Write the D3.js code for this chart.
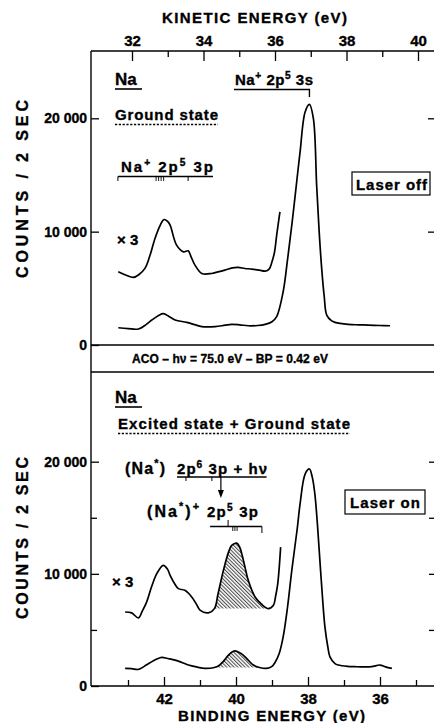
<!DOCTYPE html>
<html><head><meta charset="utf-8">
<script src="https://cdn.jsdelivr.net/npm/d3@7"></script>
<style>
body{margin:0;background:#fff;}
svg text{font-family:"Liberation Sans",Arial,Helvetica,sans-serif;font-weight:bold;fill:#000;stroke:#000;stroke-width:0.35px;}
</style></head><body><svg id="c" width="434" height="723"></svg>
<script>
// ---------------- DATA ----------------
const beMajorTicks = [42, 40, 38, 36];
const beMinorTicks = [43, 41, 39, 37, 35];
const keMajorTicks = [32, 34, 36, 38, 40];
const keMinorTicks = [33, 35, 37, 39];
const countMajorTicks = [0, 10000, 20000];
const countMinorTicks = [5000, 15000];
const countTickLabels = ["0", "10 000", "20 000"];

// Laser off (ground state) spectrum: binding energy (eV) and counts / 2 s
const offBE = [43.27,43.0,42.71,42.5,42.34,42.15,42.02,41.85,41.69,41.37,41.15,40.95,40.58,40.3,40.12,39.9,39.66,39.4,39.19,39.0,38.87,38.69,38.57,38.45,38.3,38.22,38.08,37.96,37.85,37.76,37.69,37.62,37.55,37.48,37.35,37.25,36.88,36.6,36.33,36.0,35.72];
const offCounts = [1520,1450,1410,1800,2200,2600,2760,2500,2200,2000,1800,1620,1620,1750,1820,1780,1700,1720,1820,2050,2500,4700,7500,10570,14800,17030,20560,21230,19970,14100,10000,6760,4300,2640,2150,2000,1820,1780,1760,1720,1700];
// Laser off, x3 magnified trace (plotted counts)
const offX3BE = [43.27,43.05,42.85,42.7,42.53,42.4,42.25,42.1,42.0,41.9,41.83,41.65,41.46,41.33,41.25,41.14,40.95,40.68,40.5,40.31,40.1,39.94,39.75,39.56,39.35,39.19,39.08,39.0,38.93,38.87,38.78];
const offX3Counts = [6460,6150,5960,6200,6760,7800,9400,10600,11070,10900,10570,8810,8220,8310,7800,7050,6310,6310,6450,6610,6800,6840,6750,6700,6600,6520,6700,7340,8200,9690,11740];

// Laser on (excited + ground state) spectrum
const onBE = [43.08,42.9,42.71,42.55,42.39,42.2,42.06,41.9,41.69,41.5,41.32,41.1,40.86,40.6,40.49,40.35,40.21,40.1,40.03,39.92,39.8,39.66,39.52,39.35,39.15,39.0,38.92,38.8,38.69,38.57,38.45,38.3,38.22,38.08,37.96,37.88,37.81,37.74,37.67,37.6,37.53,37.45,37.39,37.25,37.16,36.9,36.69,36.45,36.23,36.0,35.85,35.67];
const onCounts = [1570,1550,1480,1750,2070,2400,2550,2450,2310,2100,1870,1700,1570,1650,1780,2200,2760,3050,3140,3000,2760,2300,1870,1650,1570,1750,2070,2900,4380,7000,10310,14000,16240,18900,19350,18600,17130,14500,11200,8000,5270,3500,2600,2000,1870,1750,1720,1700,1720,1870,1700,1570];
// Laser on, x3 magnified trace
const onX3BE = [43.08,42.9,42.71,42.6,42.48,42.35,42.2,42.02,41.9,41.83,41.7,41.6,41.42,41.23,41.1,41.0,40.77,40.6,40.5,40.35,40.2,40.12,39.98,39.9,39.84,39.75,39.66,39.47,39.29,39.1,38.96,38.9,38.84,38.76];
const onX3Counts = [6600,6520,6070,6700,7500,8800,10020,10760,10400,9870,9100,8680,8530,7940,7300,6760,6520,6900,8200,10310,12000,12530,12740,12400,11800,10600,9420,7940,7290,6900,7200,8000,9130,12380];

// hatched (excited-state) peak ranges, binding energy eV
const hatchOnX3 = [40.6, 39.1];
const hatchOn = [40.6, 39.35];

// annotation positions in binding energy (eV)
const peak3sBE = 37.96;
const bracket3pGround = [43.28, 40.64];
const ticks3pGround = [43.28, 41.33];
const multiplet3pGround = [42.22, 42.15, 42.08, 42.01];
const bracketExc6 = [41.64, 39.15];
const ticksExc6 = [41.39, 40.67];
const arrowExcBE = 40.42;
const bracketExc5 = [40.72, 39.28];
const tickUpExc5 = 40.22;
const multipletExc5 = [40.09, 40.03, 39.97];

// ---------------- SCALES ----------------
const svg = d3.select("#c");
const L = 91, R = 436, T = 51;
const x = d3.scaleLinear().domain([42, 36]).range([164, 380]);
const xKE = d3.scaleLinear().domain([32, 40]).range([132, 418]);
const yTop = d3.scaleLinear().domain([0, 20000]).range([345, 118.3]);
const yBot = d3.scaleLinear().domain([0, 20000]).range([686, 461.7]);

const defs = svg.append("defs");
const pat = defs.append("pattern").attr("id", "hatch").attr("patternUnits", "userSpaceOnUse")
  .attr("width", 2.6).attr("height", 6).attr("patternTransform", "rotate(-45)");
pat.append("line").attr("x1", 0.6).attr("y1", 0).attr("x2", 0.6).attr("y2", 6).attr("stroke", "#000").attr("stroke-width", 0.8);

// ---------------- FRAME ----------------
const frame = svg.append("g").attr("stroke", "#000").attr("stroke-width", 1.4).attr("fill", "none");
frame.append("line").attr("x1", L).attr("x2", L).attr("y1", T).attr("y2", 686);
frame.append("line").attr("x1", R).attr("x2", R).attr("y1", T).attr("y2", 686);
frame.append("line").attr("x1", L).attr("x2", R + 2).attr("y1", T).attr("y2", T);
frame.append("line").attr("x1", L).attr("x2", R + 2).attr("y1", yTop(0)).attr("y2", yTop(0));
frame.append("line").attr("x1", L).attr("x2", R + 2).attr("y1", 372).attr("y2", 372);
frame.append("line").attr("x1", L).attr("x2", R + 2).attr("y1", yBot(0)).attr("y2", yBot(0));

function styleAxis(g, fs) {
  g.select(".domain").remove();
  g.selectAll(".tick line").attr("stroke", "#000").attr("stroke-width", 1.3);
  g.selectAll(".tick text").attr("font-size", fs).attr("fill", "#000")
    .attr("font-family", '"Liberation Sans",Arial,sans-serif').attr("font-weight", "bold");
}
const fmtCount = d => countTickLabels[countMajorTicks.indexOf(d)];

// top kinetic energy axis
svg.append("g").attr("transform", `translate(0,${T})`)
  .call(d3.axisTop(xKE).tickValues(keMajorTicks).tickSize(-10).tickPadding(5).tickFormat(d3.format("d")))
  .call(g => styleAxis(g, 15));
svg.append("g").attr("transform", `translate(0,${T})`)
  .call(d3.axisTop(xKE).tickValues(keMinorTicks).tickSize(-6).tickFormat(""))
  .call(g => styleAxis(g, 15));

// bottom binding energy axis
svg.append("g").attr("transform", `translate(0,${yBot(0)})`)
  .call(d3.axisBottom(x).tickValues(beMajorTicks).tickSize(-9).tickPadding(7).tickFormat(d3.format("d")))
  .call(g => styleAxis(g, 15));
svg.append("g").attr("transform", `translate(0,${yBot(0)})`)
  .call(d3.axisBottom(x).tickValues(beMinorTicks).tickSize(-6).tickFormat(""))
  .call(g => styleAxis(g, 15));

// left / right count axes
svg.append("g").attr("transform", `translate(${L},0)`)
  .call(d3.axisLeft(yTop).tickValues(countMajorTicks).tickSize(-8).tickPadding(4).tickFormat(fmtCount))
  .call(g => styleAxis(g, 14));
svg.append("g").attr("transform", `translate(${R},0)`)
  .call(d3.axisRight(yTop).tickValues(countMajorTicks.slice(1)).tickSize(-8).tickFormat(""))
  .call(g => styleAxis(g, 13));
svg.append("g").attr("transform", `translate(${L},0)`)
  .call(d3.axisLeft(yBot).tickValues(countMajorTicks).tickSize(-8).tickPadding(4).tickFormat(fmtCount))
  .call(g => styleAxis(g, 14));
svg.append("g").attr("transform", `translate(${L},0)`)
  .call(d3.axisLeft(yBot).tickValues(countMinorTicks).tickSize(-6).tickFormat(""))
  .call(g => styleAxis(g, 13));
svg.append("g").attr("transform", `translate(${R},0)`)
  .call(d3.axisRight(yBot).tickValues(countMajorTicks.slice(1).concat(countMinorTicks)).tickSize(-7).tickFormat(""))
  .call(g => styleAxis(g, 13));

// axis titles
svg.append("text").attr("x", 162).attr("y", 23).attr("font-size", 15)
  .attr("textLength", 185).attr("lengthAdjust", "spacing").text("KINETIC  ENERGY (eV)");
svg.append("text").attr("x", 178).attr("y", 721).attr("font-size", 15)
  .attr("textLength", 187).attr("lengthAdjust", "spacing").text("BINDING  ENERGY (eV)");
function yTitle(cy, len) {
  svg.append("text").attr("transform", `translate(28,${cy}) rotate(-90)`).attr("text-anchor", "middle")
    .attr("font-size", 16).attr("textLength", len).attr("lengthAdjust", "spacing").text("COUNTS / 2 SEC");
}
yTitle(189, 178);
yTitle(538, 162);

// ---------------- CURVES ----------------
const curve = d3.curveCatmullRom.alpha(0.5);
function trace(be, c, y) {
  const pts = be.map((b, i) => [b, c[i]]);
  svg.append("path").datum(pts).attr("fill", "none").attr("stroke", "#000").attr("stroke-width", 1.7)
    .attr("stroke-linejoin", "round")
    .attr("d", d3.line().x(p => x(p[0])).y(p => y(p[1])).curve(curve));
}
function hatch(be, c, y, range) {
  const pts = be.map((b, i) => [b, c[i]]).filter(p => p[0] <= range[0] && p[0] >= range[1]);
  const p0 = pts[0], p1 = pts[pts.length - 1];
  const base = b => p0[1] + (p1[1] - p0[1]) * (b - p0[0]) / (p1[0] - p0[0]);
  svg.append("path").datum(pts).attr("fill", "url(#hatch)").attr("stroke", "none")
    .attr("d", d3.area().x(p => x(p[0])).y0(p => y(base(p[0]))).y1(p => y(p[1])).curve(curve));
}
hatch(onX3BE, onX3Counts, yBot, hatchOnX3);
hatch(onBE, onCounts, yBot, hatchOn);
trace(offBE, offCounts, yTop);
trace(offX3BE, offX3Counts, yTop);
trace(onBE, onCounts, yBot);
trace(onX3BE, onX3Counts, yBot);

// ---------------- ANNOTATIONS ----------------
function rich(xp, yp, parts, fs, len) {
  const t = svg.append("text").attr("x", xp).attr("y", yp).attr("font-size", fs);
  if (len) t.attr("textLength", len).attr("lengthAdjust", "spacing");
  let shift = 0;
  parts.forEach(p => {
    const target = p.sup ? -fs * 0.42 : 0;
    const ts = t.append("tspan").attr("dy", target - shift).text(p.t);
    if (p.sup) ts.attr("font-size", fs * 0.68);
    shift = target;
  });
  return t;
}
const ann = svg.append("g").attr("stroke", "#000").attr("fill", "none");
function seg(x1, y1, x2, y2, w, dash) {
  const l = ann.append("line").attr("x1", x1).attr("y1", y1).attr("x2", x2).attr("y2", y2).attr("stroke-width", w || 1.3);
  if (dash) l.attr("stroke-dasharray", dash);
}

// top panel
rich(115, 85, [{t: "Na"}], 17);
seg(115, 89, 142, 89, 1.6);
rich(235, 85, [{t: "Na"}, {t: "+", sup: true}, {t: " 2p"}, {t: "5", sup: true}, {t: " 3s"}], 15, 78);
ann.append("path").attr("stroke-width", 1.4).attr("d", `M234,89.5H${x(peak3sBE)}V97`);
rich(115, 120, [{t: "Ground state"}], 15, 103);
seg(115, 124.5, 218, 124.5, 1.4, "2.2,1.6");
rich(121, 172, [{t: "Na"}, {t: "+", sup: true}, {t: " 2p"}, {t: "5", sup: true}, {t: "  3p"}], 15, 92);
seg(x(bracket3pGround[0]), 176.5, x(bracket3pGround[1]), 176.5, 1.3);
ticks3pGround.forEach(b => seg(x(b), 176.5, x(b), 181, 1));
multiplet3pGround.forEach(b => seg(x(b), 176.5, x(b), 181, 0.9));
rich(117, 245, [{t: "× 3"}], 15);
ann.append("rect").attr("x", 352).attr("y", 172).attr("width", 78).attr("height", 23).attr("stroke-width", 1.2);
rich(356, 189.5, [{t: "Laser  off"}], 15, 71);

// middle band
rich(132, 363, [{t: "ACO – hν = 75.0 eV – BP = 0.42 eV"}], 12, 196);

// bottom panel
rich(115, 403, [{t: "Na"}], 17);
seg(115, 407, 142, 407, 1.6);
rich(118, 429, [{t: "Excited  state  + Ground  state"}], 15, 232);
seg(118, 433.5, 350, 433.5, 1.4, "2.2,1.6");
rich(125, 474, [{t: "(Na"}, {t: "*", sup: true}, {t: ")"}], 16, 40);
rich(177, 474, [{t: "2p"}, {t: "6", sup: true}, {t: " 3p + hν"}], 15, 90);
seg(x(bracketExc6[0]), 477, x(bracketExc6[1]), 477, 1.5);
ticksExc6.forEach(b => seg(x(b), 477, x(b), 481, 1));
seg(x(arrowExcBE), 477, x(arrowExcBE), 492, 1.2);
ann.append("path").attr("fill", "#000").attr("stroke", "none")
  .attr("d", `M${x(arrowExcBE) - 3},490L${x(arrowExcBE) + 3},490L${x(arrowExcBE)},498Z`);
rich(147, 517, [{t: "(Na"}, {t: "*", sup: true}, {t: ")"}, {t: "+", sup: true}], 16, 52);
rich(207, 517, [{t: "2p"}, {t: "5", sup: true}, {t: " 3p"}], 15, 51);
seg(x(bracketExc5[0]), 526.5, x(bracketExc5[1]), 526.5, 1.3);
seg(x(tickUpExc5), 520, x(tickUpExc5), 526.5, 1);
seg(x(bracketExc5[1]), 526.5, x(bracketExc5[1]), 533, 1);
multipletExc5.forEach(b => seg(x(b), 526.5, x(b), 531, 0.9));
ann.append("rect").attr("x", 345).attr("y", 490).attr("width", 80).attr("height", 24).attr("stroke-width", 1.2);
rich(350, 507.5, [{t: "Laser  on"}], 15, 70);
rich(112, 587, [{t: "× 3"}], 15);
</script></body></html>
